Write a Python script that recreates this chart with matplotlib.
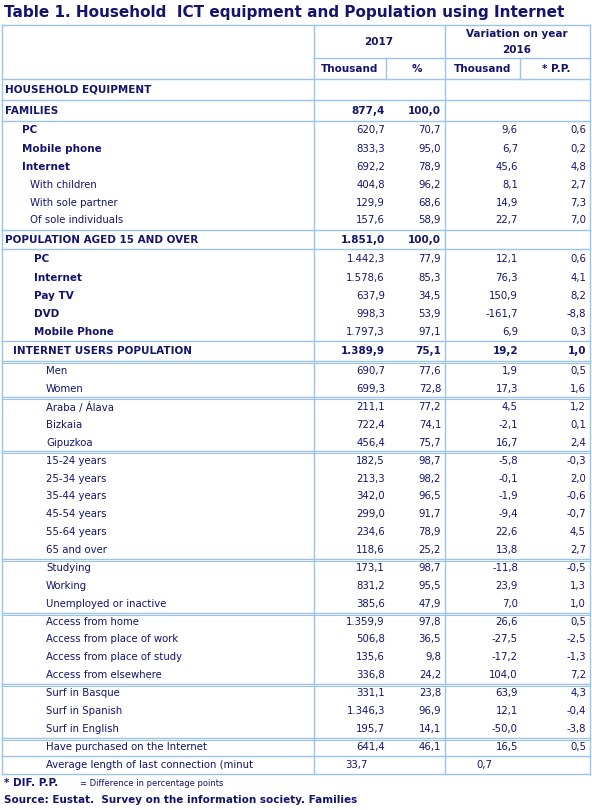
import matplotlib
matplotlib.use("Agg")
import matplotlib.pyplot as plt

labels = ["HOUSEHOLD EQUIPMENT", "FAMILIES", "PC", "Mobile phone", "Internet",
          "With children", "With sole partner", "Of sole individuals",
          "POPULATION AGED 15 AND OVER", "PC", "Internet", "Pay TV", "DVD", "Mobile Phone",
          "INTERNET USERS POPULATION", "Men", "Women", "Araba / Álava", "Bizkaia", "Gipuzkoa",
          "15-24 years", "25-34 years", "35-44 years", "45-54 years", "55-64 years", "65 and over",
          "Studying", "Working", "Unemployed or inactive",
          "Access from home", "Access from place of work", "Access from place of study", "Access from elsewhere",
          "Surf in Basque", "Surf in Spanish", "Surf in English",
          "Have purchased on the Internet", "Average length of last connection (minut"]
thousand = ["", "877,4", "620,7", "833,3", "692,2", "404,8", "129,9", "157,6",
            "1.851,0", "1.442,3", "1.578,6", "637,9", "998,3", "1.797,3",
            "1.389,9", "690,7", "699,3", "211,1", "722,4", "456,4",
            "182,5", "213,3", "342,0", "299,0", "234,6", "118,6",
            "173,1", "831,2", "385,6", "1.359,9", "506,8", "135,6", "336,8",
            "331,1", "1.346,3", "195,7", "641,4", "33,7"]
pct = ["", "100,0", "70,7", "95,0", "78,9", "96,2", "68,6", "58,9",
       "100,0", "77,9", "85,3", "34,5", "53,9", "97,1",
       "75,1", "77,6", "72,8", "77,2", "74,1", "75,7",
       "98,7", "98,2", "96,5", "91,7", "78,9", "25,2",
       "98,7", "95,5", "47,9", "97,8", "36,5", "9,8", "24,2",
       "23,8", "96,9", "14,1", "46,1", ""]
var_thousand = ["", "", "9,6", "6,7", "45,6", "8,1", "14,9", "22,7",
                "", "12,1", "76,3", "150,9", "-161,7", "6,9",
                "19,2", "1,9", "17,3", "4,5", "-2,1", "16,7",
                "-5,8", "-0,1", "-1,9", "-9,4", "22,6", "13,8",
                "-11,8", "23,9", "7,0", "26,6", "-27,5", "-17,2", "104,0",
                "63,9", "12,1", "-50,0", "16,5", "0,7"]
var_pp = ["", "", "0,6", "0,2", "4,8", "2,7", "7,3", "7,0",
          "", "0,6", "4,1", "8,2", "-8,8", "0,3",
          "1,0", "0,5", "1,6", "1,2", "0,1", "2,4",
          "-0,3", "2,0", "-0,6", "-0,7", "4,5", "2,7",
          "-0,5", "1,3", "1,0", "0,5", "-2,5", "-1,3", "7,2",
          "4,3", "-0,4", "-3,8", "0,5", ""]

indent = [5, 5, 22, 22, 22, 30, 30, 30, 5, 34, 34, 34, 34, 34, 13] + [46] * 23
bold = [True] * 5 + [False] * 3 + [True] * 7 + [False] * 23
bold_num = [i in (1, 8, 14) for i in range(len(labels))]
ys = [89, 111, 130, 149, 167, 185, 203, 220, 240, 259, 278, 296, 314, 332, 351,
      371, 389, 407, 425, 443, 461, 479, 496, 514, 532, 550, 568, 586, 604,
      622, 639, 657, 675, 693, 711, 729, 747, 765]

NAVY = "#14146b"
LINE = "#9dc3e6"
W, H = 592, 810
fig = plt.figure(figsize=(W / 100, H / 100), dpi=100)
ax = fig.add_axes([0, 0, 1, 1])
ax.set_xlim(0, W)
ax.set_ylim(H, 0)
ax.axis("off")
fam = "DejaVu Sans"

ax.text(4, 12, "Table 1. Household  ICT equipment and Population using Internet",
        fontsize=11, fontweight="bold", color=NAVY, va="center", family=fam)

top, bot = 25, 774
for x in [2, 314, 445, 590]:
    ax.plot([x, x], [top, bot], color=LINE, lw=1)
for x in [386, 520]:
    ax.plot([x, x], [59, 79], color=LINE, lw=1)
ax.plot([314, 590], [58, 58], color=LINE, lw=1)
hlines = [25, 79, 100, 121, 230, 249, 341, 361, 397, 451, 559, 613, 684, 738, 756, 774]
for y in hlines:
    ax.plot([2, 590], [y, y], color=LINE, lw=1)
for y in [363, 399, 453, 561, 615, 686, 740]:
    ax.plot([2, 590], [y, y], color=LINE, lw=0.8)

hk = dict(fontsize=7.5, fontweight="bold", color=NAVY, va="center", ha="center", family=fam)
ax.text(379, 42, "2017", **hk)
ax.text(517, 34, "Variation on year", **hk)
ax.text(517, 50, "2016", **hk)
ax.text(350, 69, "Thousand", **hk)
ax.text(417, 69, "%", **hk)
ax.text(483, 69, "Thousand", **hk)
ax.text(556, 69, "* P.P.", **hk)

for i, lab in enumerate(labels):
    y = ys[i]
    kw = dict(fontsize=7.5 if bold[i] else 7.3, fontweight="bold" if bold[i] else "normal",
              color=NAVY, va="center", family=fam)
    nk = dict(fontsize=7.5 if bold_num[i] else 7.3, fontweight="bold" if bold_num[i] else "normal",
              color=NAVY, va="center", family=fam)
    ax.text(indent[i], y, lab, ha="left", **kw)
    if i == len(labels) - 1:
        ax.text(356, y, thousand[i], ha="center", **nk)
        ax.text(484, y, var_thousand[i], ha="center", **nk)
        continue
    ax.text(385, y, thousand[i], ha="right", **nk)
    ax.text(441, y, pct[i], ha="right", **nk)
    ax.text(518, y, var_thousand[i], ha="right", **nk)
    ax.text(586, y, var_pp[i], ha="right", **nk)

ax.text(4, 783, "* DIF. P.P.", fontsize=7.5, fontweight="bold", color=NAVY, va="center", family=fam)
ax.text(80, 783, "= Difference in percentage points", fontsize=6, color=NAVY, va="center",
        family="Liberation Sans Narrow")
ax.text(4, 800, "Source: Eustat.  Survey on the information society. Families", fontsize=7.5,
        fontweight="bold", color=NAVY, va="center", family=fam)

fig.savefig("out.png", dpi=100)
